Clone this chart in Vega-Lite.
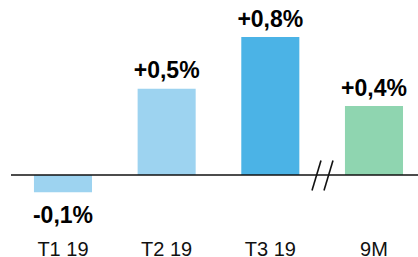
{
  "$schema": "https://vega.github.io/schema/vega-lite/v6.json",
  "width": 407,
  "height": 230,
  "autosize": "none",
  "padding": {"left": 11, "top": 0, "right": 0, "bottom": 27},
  "background": "white",
  "config": {"view": {"stroke": null}, "font": "Liberation Sans"},
  "data": {"values": [
    {"period": "T1 19", "value": -0.1, "label": "-0,1%"},
    {"period": "T2 19", "value": 0.5, "label": "+0,5%"},
    {"period": "T3 19", "value": 0.8, "label": "+0,8%"},
    {"period": "9M", "value": 0.4, "label": "+0,4%"}
  ]},
  "layer": [
    {
      "mark": {"type": "bar"},
      "encoding": {
        "x": {"field": "period", "type": "nominal", "sort": null,
          "scale": {"paddingInner": 0.44, "paddingOuter": 0.183, "align": 0.605},
          "axis": {"title": null, "domain": false, "ticks": false, "labelAngle": 0, "labelFontSize": 20, "labelColor": "#111111", "labelPadding": 9, "labelFont": "Liberation Sans"}},
        "y": {"field": "value", "type": "quantitative", "scale": {"domain": [-0.3188, 1.0145], "nice": false, "zero": false}, "axis": null},
        "color": {"field": "period", "type": "nominal", "legend": null,
          "scale": {"domain": ["T1 19", "T2 19", "T3 19", "9M"], "range": ["#9dd3f0", "#9dd3f0", "#4bb3e6", "#8fd5b0"]}}
      }
    },
    {
      "transform": [{"filter": "datum.value >= 0"}],
      "mark": {"type": "text", "fontWeight": "bold", "fontSize": 23, "baseline": "alphabetic", "dy": -10.5, "color": "#000000"},
      "encoding": {
        "x": {"field": "period", "type": "nominal", "sort": null},
        "y": {"field": "value", "type": "quantitative"},
        "text": {"field": "label"}
      }
    },
    {
      "transform": [{"filter": "datum.value < 0"}],
      "mark": {"type": "text", "fontWeight": "bold", "fontSize": 23, "baseline": "alphabetic", "dy": 30.5, "color": "#000000"},
      "encoding": {
        "x": {"field": "period", "type": "nominal", "sort": null},
        "y": {"field": "value", "type": "quantitative"},
        "text": {"field": "label"}
      }
    },
    {
      "data": {"values": [{}]},
      "mark": {"type": "rule", "color": "#111111", "strokeWidth": 1.5},
      "encoding": {"y": {"datum": 0}}
    },
    {
      "data": {"values": [{}]},
      "mark": {"type": "rule", "color": "#111111", "strokeWidth": 1.6, "xOffset": -62, "x2Offset": -53},
      "encoding": {"x": {"datum": "9M"}, "x2": {"datum": "9M"}, "y": {"datum": -0.09}, "y2": {"datum": 0.084}}
    },
    {
      "data": {"values": [{}]},
      "mark": {"type": "rule", "color": "#111111", "strokeWidth": 1.6, "xOffset": -50, "x2Offset": -41},
      "encoding": {"x": {"datum": "9M"}, "x2": {"datum": "9M"}, "y": {"datum": -0.09}, "y2": {"datum": 0.084}}
    }
  ]
}
